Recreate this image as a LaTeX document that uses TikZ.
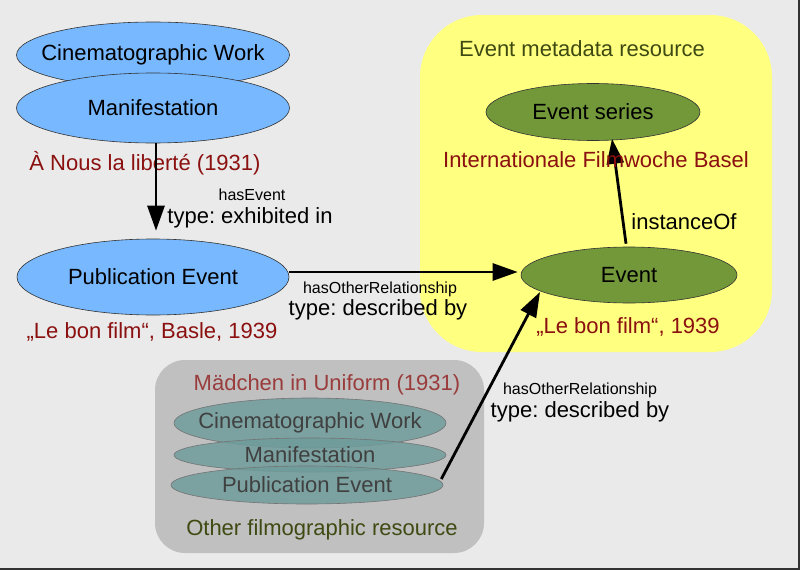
\documentclass[tikz,border=0pt]{standalone}
\usepackage{fontspec}
\setmainfont{Liberation Sans}
\usetikzlibrary{shapes.geometric,arrows.meta}
\definecolor{bgc}{HTML}{EAEAEA}
\definecolor{yel}{HTML}{FFFF80}
\definecolor{gbox}{HTML}{C0C0C0}
\definecolor{blu}{HTML}{77B8FF}
\definecolor{olv}{HTML}{72983A}
\definecolor{teal}{HTML}{6F9C9B}
\definecolor{darkred}{HTML}{8B1010}
\definecolor{mred}{HTML}{9A3C3C}
\definecolor{olvtxt}{HTML}{3F4A12}
\frenchspacing
\begin{document}
\begin{tikzpicture}[x=1pt,y=-1pt,
  ell/.style={ellipse,draw=black!80,line width=0.6pt,inner xsep=-60pt,inner ysep=-20pt,font=\fontsize{22}{26}\selectfont},
  blueell/.style={ell,fill=blu},
  greenell/.style={ell,fill=olv},
  tealell/.style={ell,fill=teal,fill opacity=0.85,text opacity=1,text=black!75,draw=black!55},
  lbl/.style={inner sep=0pt,font=\fontsize{22}{26}\selectfont},
  redlbl/.style={lbl,text=darkred},
  small/.style={inner sep=0pt,font=\fontsize{16}{19}\selectfont},
  conn/.style={line width=2.8pt,-{Triangle[length=25pt,width=17pt]}}
]
\useasboundingbox (0,0) rectangle (800,570);
\fill[bgc] (0,0) rectangle (800,570);
\fill[black!80] (0,568) rectangle (800,570);
\fill[black!80] (798,0) rectangle (800,570);

% containers
\fill[yel,rounded corners=62pt] (420,15) rectangle (772,352);
\fill[gbox,rounded corners=30pt] (155,360) rectangle (484,553);

% left group
\node[blueell,minimum width=273pt,minimum height=66pt] (cw) at (153,55) {Cinematographic Work};
\node[blueell,minimum width=273pt,minimum height=70pt] (man) at (153,108) {Manifestation};
\node[redlbl] (t1) at (145,163) {À Nous la liberté (1931)};
\node[blueell,minimum width=272pt,minimum height=76pt] (pe) at (153,277) {Publication Event};
\node[redlbl] (t2) at (152,332) {„Le bon film“, Basle, 1939};

% event metadata
\node[lbl,text=olvtxt] (emr) at (582,49) {Event metadata resource};
\node[greenell,minimum width=214pt,minimum height=57pt] (es) at (593,112) {Event series};
\node[greenell,minimum width=216pt,minimum height=56pt] (ev) at (629,275) {Event};
\node[redlbl] (t4) at (628,327) {„Le bon film“, 1939};

% other filmographic
\node[lbl,text=mred] (t5) at (327,385) {Mädchen in Uniform (1931)};
\node[tealell,minimum width=272pt,minimum height=50pt] (cw2) at (310,423) {Cinematographic Work};
\node[tealell,minimum width=272pt,minimum height=34pt] (man2) at (310,455) {Manifestation};
\node[tealell,minimum width=272pt,minimum height=38pt] (pe2) at (307,485) {Publication Event};
\node[lbl,text=olvtxt] (ofr) at (322,530) {Other filmographic resource};

% connectors
\draw[conn,shorten >=8pt] ([xshift=3pt]man.south) -- ([xshift=3pt]pe.north);
\node[small] (l1a) at (252,195) {hasEvent};
\node[lbl] (l1b) at (250,218) {type: exhibited in};

\draw[conn] ([yshift=5pt]pe.east) -- ([yshift=3pt,xshift=-3pt]ev.west);
\node[small] (l2a) at (380,289) {hasOtherRelationship};
\node[lbl] (l2b) at (378,310) {type: described by};

\draw[conn] ([xshift=-3pt,yshift=3pt]ev.north) -- ([xshift=19pt,yshift=2pt]es.south);
\node[redlbl] (t3) at (596,160) {Internationale Filmwoche Basel};
\node[lbl] (l3) at (684,222) {instanceOf};

\draw[conn] ([xshift=-2pt,yshift=6pt]pe2.east) -- ([xshift=-89pt,yshift=-17pt]ev.center);
\node[small] (l4a) at (580,390) {hasOtherRelationship};
\node[lbl] (l4b) at (580,412) {type: described by};
\end{tikzpicture}
\end{document}
